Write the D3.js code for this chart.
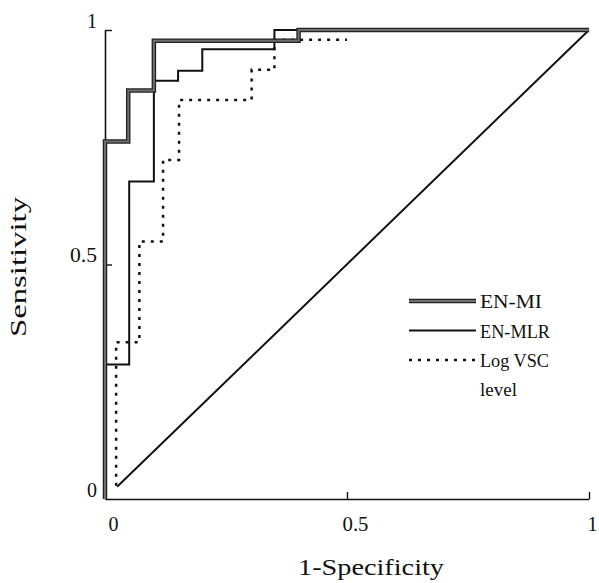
<!DOCTYPE html>
<html>
<head>
<meta charset="utf-8">
<script src="https://cdn.jsdelivr.net/npm/d3@7"></script>
<style>
  body { margin: 0; background: #fff; }
  text { font-family: "Liberation Serif", "Times New Roman", serif; fill: #111; }
</style>
</head>
<body>
<script>
// ROC curve data (1-specificity, sensitivity)
const tickValues = [0, 0.5, 1];
const tickLabels = ["0", "0.5", "1"];

const enMiFpr = [0, 0, 0.048, 0.101, 0.4, 1];
const enMiTpr = [0, 0.762, 0.871, 0.977, 1, 1];

const enMlrFpr = [0, 0, 0.05, 0.101, 0.151, 0.201, 0.35, 1];
const enMlrTpr = [0, 0.287, 0.677, 0.892, 0.913, 0.959, 1, 1];

const logVscFpr = [0.023, 0.023, 0.071, 0.12, 0.153, 0.303, 0.35, 0.5];
const logVscTpr = [0.028, 0.334, 0.549, 0.723, 0.851, 0.915, 0.979, 0.979];

const refFpr = [0.025, 1];
const refTpr = [0.026, 1];

const legendLabels = ["EN-MI", "EN-MLR", "Log VSC"];
const legendWidths = [62, 70, 69];

const width = 599, height = 583;

const svg = d3.select("body").append("svg")
    .attr("width", width)
    .attr("height", height);

const x = d3.scaleLinear().domain([0, 1]).range([105, 589]);
const y = d3.scaleLinear().domain([0, 1]).range([499, 30]);

// axes, ticks pointing inward
const xAxis = d3.axisBottom(x).tickValues(tickValues)
    .tickFormat((d, i) => tickLabels[i]).tickSize(-7).tickSizeOuter(0);
const yAxis = d3.axisLeft(y).tickValues(tickValues)
    .tickFormat((d, i) => tickLabels[i]).tickSize(-7).tickSizeOuter(0).tickPadding(8);

const gx = svg.append("g")
    .attr("transform", "translate(0," + y(0) + ")")
    .call(xAxis);
gx.selectAll("text")
    .attr("x", (d, i) => i === 2 ? 3 : 8).attr("y", 18)
    .style("font-size", "20px");
gx.selectAll("text").filter(d => d === 0.5)
    .attr("textLength", 26).attr("lengthAdjust", "spacingAndGlyphs");

const gy = svg.append("g")
    .attr("transform", "translate(" + x(0) + ",0)")
    .call(yAxis);
gy.selectAll("text")
    .attr("y", -9)
    .style("font-size", "20px");
gy.selectAll("text").filter(d => d === 0.5)
    .attr("textLength", 27).attr("lengthAdjust", "spacingAndGlyphs");

svg.selectAll(".domain").attr("stroke", "#111").attr("stroke-width", 1.6);
svg.selectAll(".tick line").attr("stroke", "#111").attr("stroke-width", 1.4);
gx.select(".tick line").remove();
gy.select(".tick line").remove();

// axis titles
svg.append("text")
    .attr("x", 371).attr("y", 575)
    .attr("text-anchor", "middle")
    .attr("textLength", 146).attr("lengthAdjust", "spacingAndGlyphs")
    .style("font-size", "24px")
    .text("1-Specificity");

svg.append("text")
    .attr("transform", "translate(26,267) rotate(-90)")
    .attr("text-anchor", "middle")
    .attr("textLength", 140).attr("lengthAdjust", "spacingAndGlyphs")
    .style("font-size", "23px")
    .text("Sensitivity");

const line = d3.line()
    .x(d => x(d[0]))
    .y(d => y(d[1]))
    .curve(d3.curveStepAfter);

const zipPts = (a, b) => a.map((v, i) => [v, b[i]]);

// reference diagonal
svg.append("path")
    .datum(zipPts(refFpr, refTpr))
    .attr("d", d3.line().x(d => x(d[0])).y(d => y(d[1])))
    .attr("fill", "none")
    .attr("stroke", "#111")
    .attr("stroke-width", 2);

// Log VSC level (dotted)
svg.append("path")
    .datum(zipPts(logVscFpr, logVscTpr))
    .attr("d", line)
    .attr("fill", "none")
    .attr("stroke", "#111")
    .attr("stroke-width", 2.5)
    .attr("stroke-dasharray", "3,6");

// EN-MLR (thin)
svg.append("path")
    .datum(zipPts(enMlrFpr, enMlrTpr))
    .attr("d", line)
    .attr("fill", "none")
    .attr("stroke", "#111")
    .attr("stroke-width", 2);

// EN-MI (thick grey line with dark edges)
const enMi = zipPts(enMiFpr, enMiTpr);
svg.append("path").datum(enMi).attr("d", line)
    .attr("fill", "none").attr("stroke", "#222").attr("stroke-width", 4.5);
svg.append("path").datum(enMi).attr("d", line)
    .attr("fill", "none").attr("stroke", "#6e6e6e").attr("stroke-width", 2);

// legend
const legend = svg.append("g").attr("transform", "translate(409,301)");
const rowGap = 29.5;

legend.append("line").attr("x1", 0).attr("x2", 67).attr("y1", 0).attr("y2", 0)
    .attr("stroke", "#222").attr("stroke-width", 4.5);
legend.append("line").attr("x1", 0).attr("x2", 67).attr("y1", 0).attr("y2", 0)
    .attr("stroke", "#6e6e6e").attr("stroke-width", 2);
legend.append("line").attr("x1", 0).attr("x2", 67).attr("y1", rowGap).attr("y2", rowGap)
    .attr("stroke", "#111").attr("stroke-width", 2);
legend.append("line").attr("x1", 0).attr("x2", 67).attr("y1", rowGap * 2).attr("y2", rowGap * 2)
    .attr("stroke", "#111").attr("stroke-width", 2.5).attr("stroke-dasharray", "3,6");

legend.selectAll(".legend-label")
    .data(legendLabels)
    .enter()
    .append("text")
    .attr("class", "legend-label")
    .attr("x", 71)
    .attr("y", (d, i) => i * rowGap + 7)
    .attr("textLength", (d, i) => legendWidths[i])
    .attr("lengthAdjust", "spacingAndGlyphs")
    .style("font-size", "19px")
    .text(d => d);

legend.append("text")
    .attr("x", 71).attr("y", rowGap * 3 + 6)
    .style("font-size", "19px")
    .text("level");
</script>
</body>
</html>
